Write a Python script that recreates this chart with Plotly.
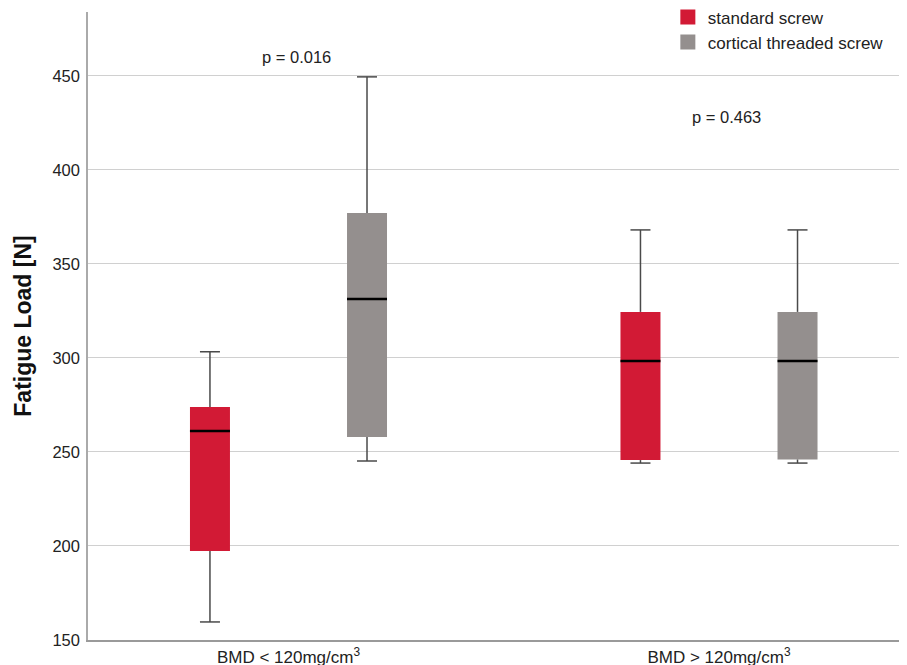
import plotly.graph_objects as go

# ---- data ----
groups = ["BMD < 120mg/cm<sup>3</sup>", "BMD > 120mg/cm<sup>3</sup>"]
group_pos = [0, 1]
series_names = ["standard screw", "cortical threaded screw"]
series_colors = ["#D21A35", "#948F8E"]

std_lower = [159.6, 244.1]
std_q1 = [197.3, 245.7]
std_median = [261.2, 298.4]
std_q3 = [273.9, 324.5]
std_upper = [303.3, 368.1]

ctd_lower = [245.2, 244.1]
ctd_q1 = [258.0, 246.0]
ctd_median = [331.4, 298.4]
ctd_q3 = [377.1, 324.5]
ctd_upper = [449.5, 368.1]

p_labels = ["p = 0.016", "p = 0.463"]
y_ticks = [150, 200, 250, 300, 350, 400, 450]

# ---- layout constants ----
offsets = [-0.1824, 0.1824]
box_w = 0.0929
whisker_col = "#4a4a4a"
FONT = "Liberation Sans, Arial, sans-serif"

fig = go.Figure()

stats = [
    (std_lower, std_q1, std_median, std_q3, std_upper),
    (ctd_lower, ctd_q1, ctd_median, ctd_q3, ctd_upper),
]

for i, (lo, q1, med, q3, up) in enumerate(stats):
    xs = [g + offsets[i] for g in group_pos]
    # whisker stems
    wx, wy = [], []
    for x, a, b, c, d in zip(xs, lo, q1, q3, up):
        wx += [x, x, None, x, x, None]
        wy += [c, d, None, a, b, None]
    fig.add_trace(go.Scatter(x=wx, y=wy, mode="lines",
                             line=dict(color=whisker_col, width=1.5),
                             showlegend=False, hoverinfo="skip"))
    # whisker caps (line-ew markers are drawn 1.4x their size)
    fig.add_trace(go.Scatter(x=xs + xs, y=up + lo, mode="markers",
                             marker=dict(symbol="line-ew", size=20 / 1.4,
                                         line=dict(color=whisker_col, width=1.5)),
                             showlegend=False, hoverinfo="skip"))

for i, (lo, q1, med, q3, up) in enumerate(stats):
    xs = [g + offsets[i] for g in group_pos]
    fig.add_trace(go.Bar(x=xs, y=[b - a for a, b in zip(q1, q3)], base=q1,
                         width=box_w, marker=dict(color=series_colors[i], line=dict(width=0)),
                         name=series_names[i], showlegend=False))

for i, (lo, q1, med, q3, up) in enumerate(stats):
    xs = [g + offsets[i] for g in group_pos]
    fig.add_trace(go.Scatter(x=xs, y=med, mode="markers",
                             marker=dict(symbol="line-ew", size=40 / 1.4,
                                         line=dict(color="black", width=2.5)),
                             showlegend=False, hoverinfo="skip"))

# legend entries (square swatches)
for i, name in enumerate(series_names):
    fig.add_trace(go.Scatter(x=[None], y=[None], mode="markers", name=name,
                             marker=dict(symbol="square", size=15, color=series_colors[i],
                                         line=dict(width=0))))

fig.add_annotation(x=group_pos[0] + 0.018, y=460, text=p_labels[0], showarrow=False,
                   font=dict(size=16.5, color="#222"))
fig.add_annotation(x=group_pos[1] + 0.018, y=428.2, text=p_labels[1], showarrow=False,
                   font=dict(size=16.5, color="#222"))

fig.update_layout(
    width=899, height=657,
    margin=dict(l=80, r=0, t=4, b=25, autoexpand=False),
    paper_bgcolor="white", plot_bgcolor="white",
    barmode="overlay",
    font=dict(family=FONT, size=16, color="#222"),
    legend=dict(x=0.708, y=1.02, xanchor="left", yanchor="top",
                bgcolor="rgba(0,0,0,0)", font=dict(size=17), tracegroupgap=0),
    xaxis=dict(range=[-0.4657, 1.4367], tickvals=group_pos, ticktext=groups,
               showgrid=False, zeroline=False, showline=True, linecolor="#9a9a9a",
               linewidth=1.5, ticks="", tickfont=dict(size=17), ticklabelstandoff=1,
               automargin=False),
    yaxis=dict(range=[150, 484], tickvals=y_ticks, showgrid=True, gridcolor="#d0d0d0",
               gridwidth=1, zeroline=False, showline=True, linecolor="#aaaaaa",
               linewidth=1.5, ticks="", tickfont=dict(size=16.5), ticklabelstandoff=3,
               automargin=False,
               title=dict(text="<b>Fatigue Load [N]</b>", standoff=14,
                          font=dict(size=23, color="#111"))),
)

fig.write_html("out.html")
